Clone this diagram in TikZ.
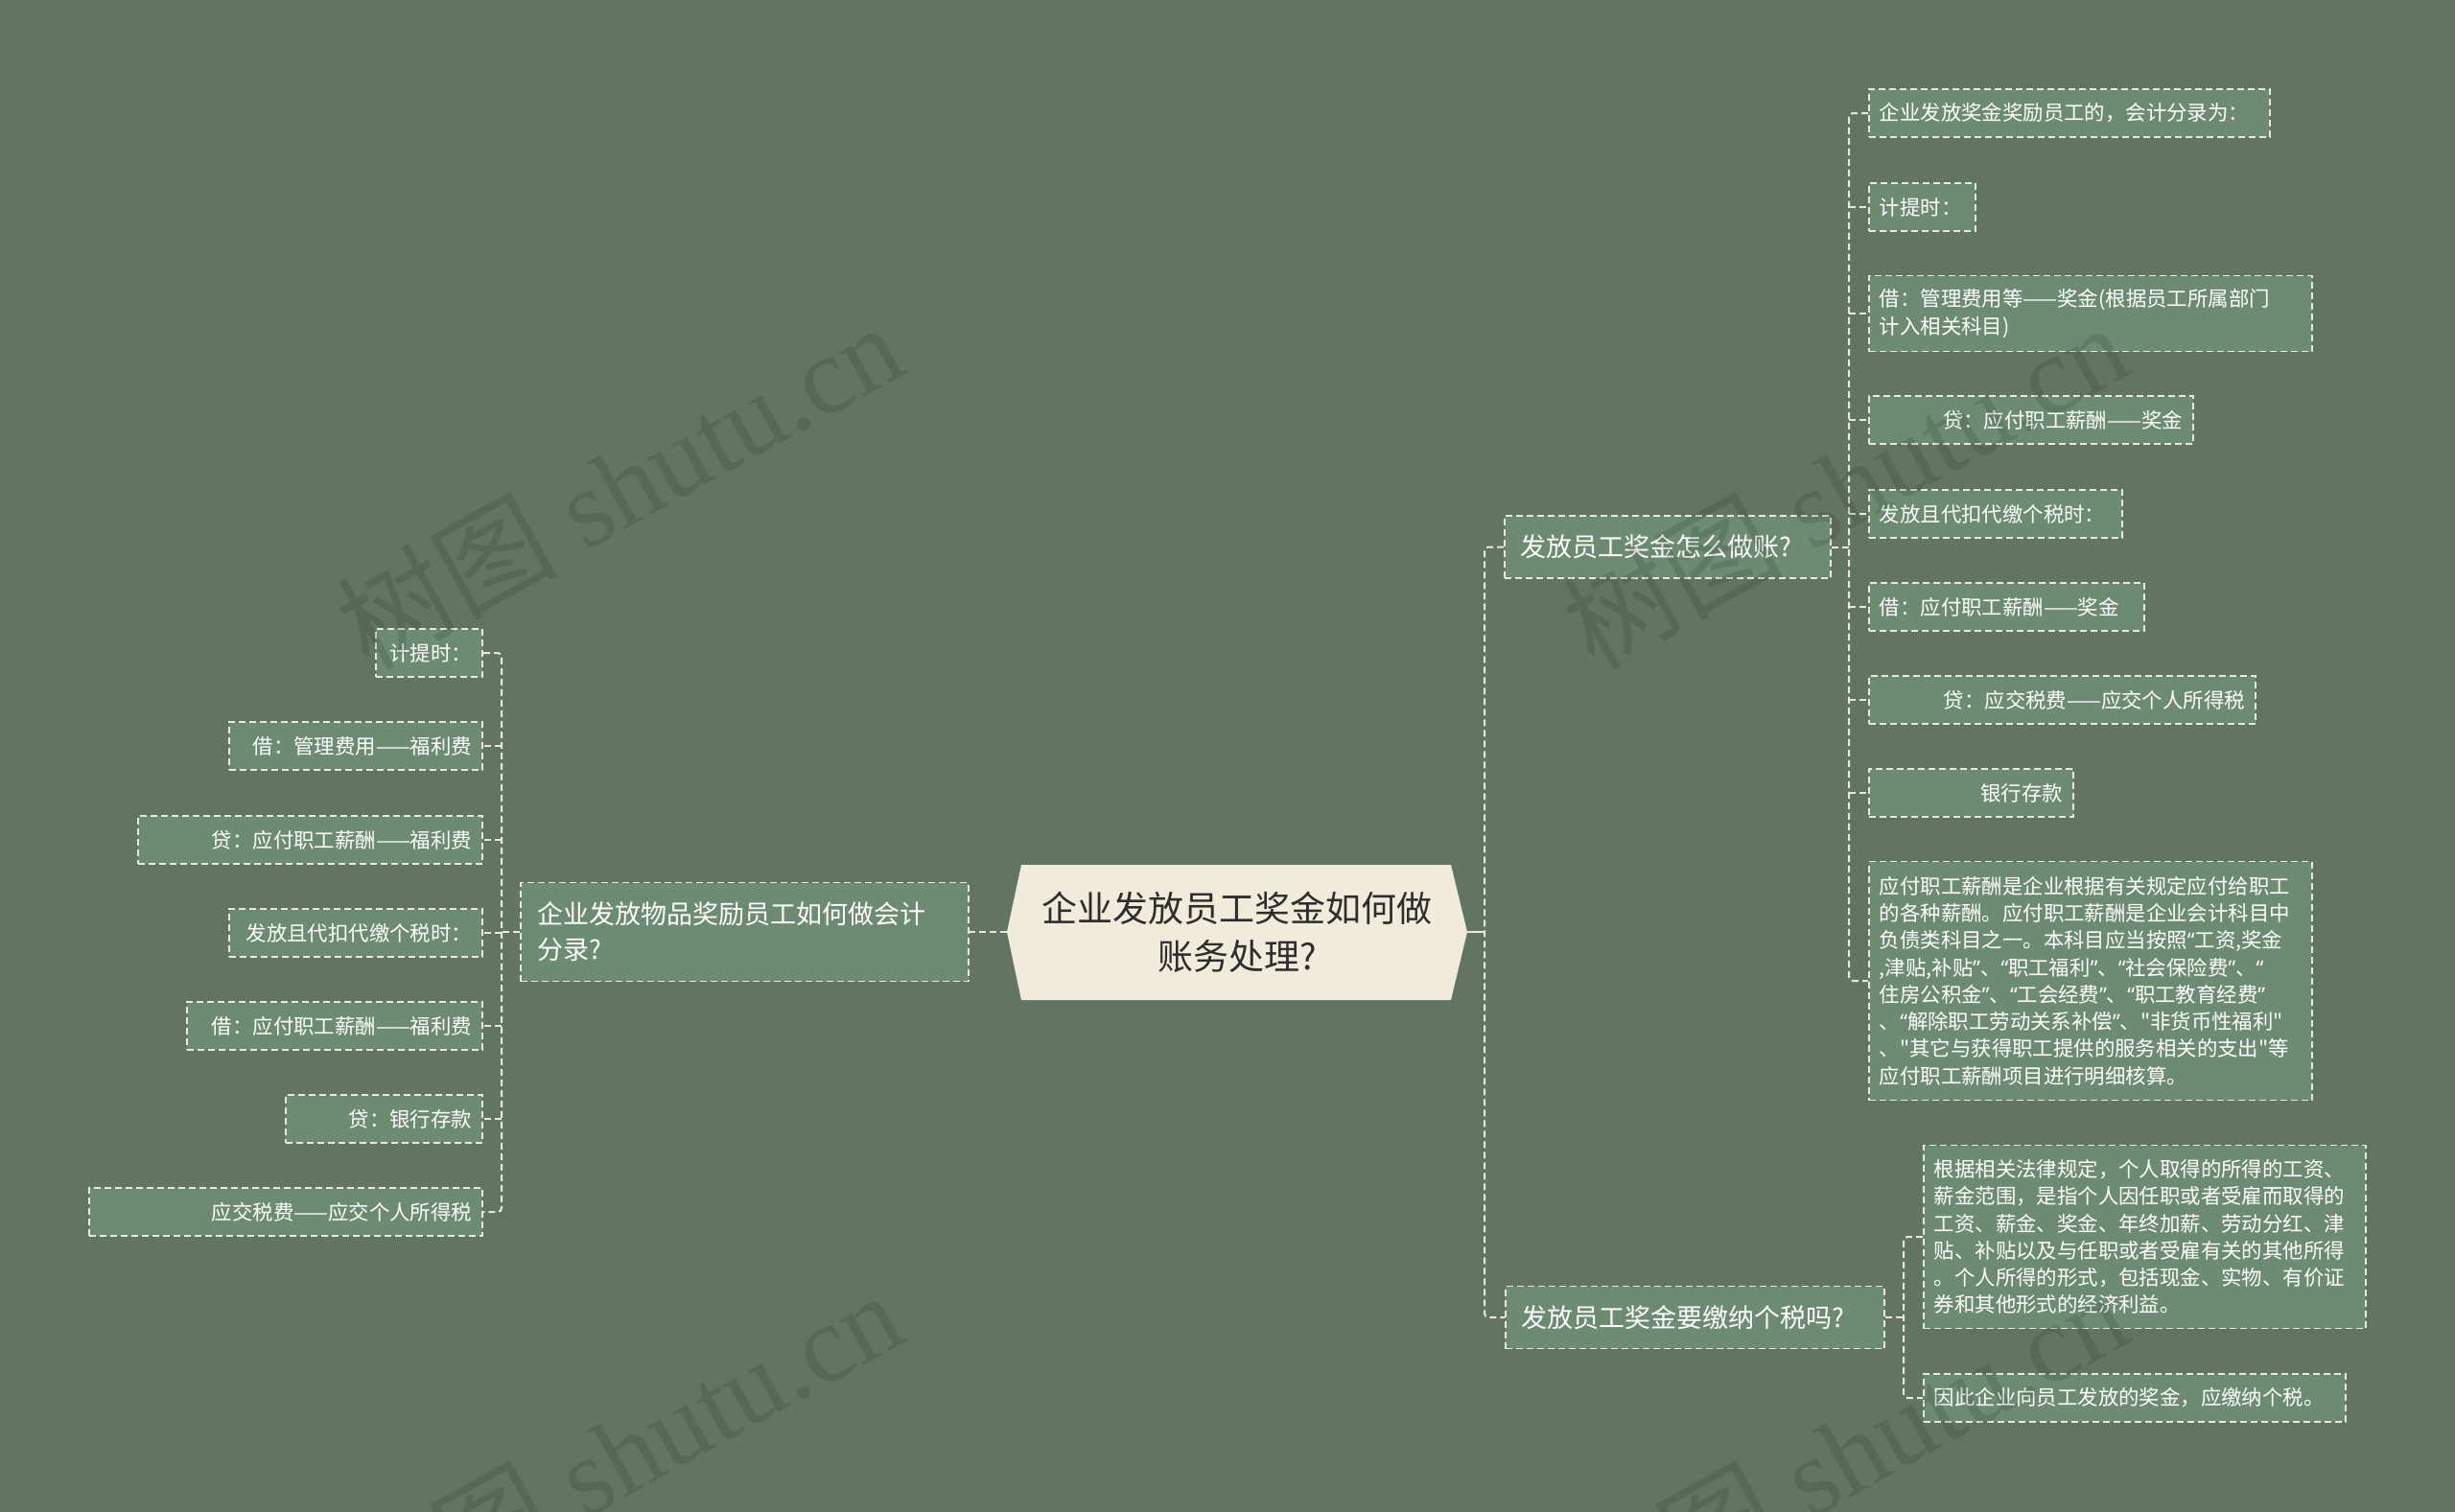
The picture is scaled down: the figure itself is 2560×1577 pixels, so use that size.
\documentclass[tikz,border=0pt]{standalone}
\usepackage{fontspec}
\newfontfamily\cjk{Noto Sans CJK SC}
\newfontfamily\latinq{Noto Sans}
\newfontfamily\wmserif{Liberation Serif}
\newcommand\oq{{\latinq “}}
\newcommand\cq{{\latinq ”}}
\definecolor{bgc}{HTML}{627463}
\definecolor{nodefill}{HTML}{6D8B73}
\definecolor{linec}{HTML}{E8E8DE}
\definecolor{rootfill}{HTML}{F0EBDB}
\definecolor{roottext}{HTML}{2E2E2E}
\definecolor{wmc}{HTML}{1F2A22}
\begin{document}
\begin{tikzpicture}[x=1pt,y=-1pt,
  conn/.style={draw=linec, line width=2pt, dash pattern=on 7pt off 4pt, rounded corners=4pt},
  solidc/.style={draw=linec, line width=2pt},
  leafbox/.style={draw=linec, line width=1.8pt, dash pattern=on 7pt off 4pt, fill=nodefill, text=white, inner xsep=11pt, inner ysep=0pt, minimum height=50pt, font=\cjk\fontsize{21.4}{28.3}\selectfont},
  rleaf/.style={leafbox, anchor=west, align=left},
  rleafr/.style={leafbox, anchor=west, align=right},
  lleaf/.style={leafbox, anchor=east, align=right},
  branchbox/.style={draw=linec, line width=1.8pt, dash pattern=on 7pt off 4pt, fill=nodefill, text=white, inner xsep=17pt, inner ysep=0pt, minimum height=65pt, font=\cjk\fontsize{27}{37}\selectfont, align=left},
  rootnode/.style={inner sep=0pt, minimum width=448pt, minimum height=141pt, text=roottext, font=\cjk\fontsize{37}{50}\selectfont, align=center},
  wm/.style={text=wmc, text opacity=0.16, font=\wmserif\fontsize{115}{115}\selectfont, rotate=29, inner sep=0pt}
]
\useasboundingbox (0,0) rectangle (2560,1577);
\fill[bgc] (0,0) rectangle (2560,1577);

% central topic
\fill[rootfill] (1065,902) -- (1513,902) -- (1530,972) -- (1513,1043) -- (1065,1043) -- (1050,972) -- cycle;
\node[rootnode] (root) at (1290,972) {企业发放员工奖金如何做\\账务处理?};
\coordinate (rootL) at (1050,972);
\coordinate (rootR) at (1530,972);

% spines
\coordinate (sR0) at (1548,0);
\coordinate (sR1) at (1928,0);
\coordinate (sR2) at (1985,0);
\coordinate (sL1) at (523,0);

% branches
\node[branchbox, anchor=west, text width=306pt] (b1) at (1568,570.5) {发放员工奖金怎么做账?};
\node[branchbox, anchor=west, text width=361pt] (b2) at (1569,1374) {发放员工奖金要缴纳个税吗?};
\node[branchbox, anchor=east, text width=433pt, minimum height=103pt] (lb) at (1011,972) {企业发放物品奖励员工如何做会计\\分录?};

% right branch 1 leaves
\node[rleaf, text width=396pt] (c1) at (1948,118) {企业发放奖金奖励员工的，会计分录为：};
\node[rleaf, text width=89pt] (c2) at (1948,216) {计提时：};
\node[rleaf, text width=440pt, minimum height=79pt] (c3) at (1948,327) {借：管理费用等——奖金(根据员工所属部门\\计入相关科目)};
\node[rleafr, text width=316pt] (c4) at (1948,438) {贷：应付职工薪酬——奖金};
\node[rleaf, text width=242pt] (c5) at (1948,536) {发放且代扣代缴个税时：};
\node[rleaf, text width=265pt] (c6) at (1948,633) {借：应付职工薪酬——奖金};
\node[rleafr, text width=381pt] (c7) at (1948,730) {贷：应交税费——应交个人所得税};
\node[rleafr, text width=191pt] (c8) at (1948,827) {银行存款};
\node[rleaf, text width=440pt, minimum height=249pt] (c9) at (1948,1023) {应付职工薪酬是企业根据有关规定应付给职工\\的各种薪酬。应付职工薪酬是企业会计科目中\\负债类科目之一。本科目应当按照\oq 工资,奖金\\,津贴,补贴\cq 、\oq 职工福利\cq 、\oq 社会保险费\cq 、\oq\\住房公积金\cq 、\oq 工会经费\cq 、\oq 职工教育经费\cq\\、\oq 解除职工劳动关系补偿\cq 、"非货币性福利"\\、"其它与获得职工提供的服务相关的支出"等\\应付职工薪酬项目进行明细核算。};

% right branch 2 leaves
\node[rleaf, text width=439pt, minimum height=191pt] (d1) at (2005,1290) {根据相关法律规定，个人取得的所得的工资、\\薪金范围，是指个人因任职或者受雇而取得的\\工资、薪金、奖金、年终加薪、劳动分红、津\\贴、补贴以及与任职或者受雇有关的其他所得\\。个人所得的形式，包括现金、实物、有价证\\券和其他形式的经济利益。};
\node[rleaf, text width=418pt] (d2) at (2005,1458) {因此企业向员工发放的奖金，应缴纳个税。};

% left branch leaves
\node[lleaf, text width=89pt] (e1) at (504,681) {计提时：};
\node[lleaf, text width=242pt] (e2) at (504,778) {借：管理费用——福利费};
\node[lleaf, text width=337pt] (e3) at (504,876) {贷：应付职工薪酬——福利费};
\node[lleaf, text width=242pt] (e4) at (504,973) {发放且代扣代缴个税时：};
\node[lleaf, text width=286pt] (e5) at (504,1070) {借：应付职工薪酬——福利费};
\node[lleaf, text width=183pt] (e6) at (504,1167) {贷：银行存款};
\node[lleaf, text width=388pt] (e7) at (504,1264) {应交税费——应交个人所得税};

% root connectors
\draw[solidc] (rootR) -- (rootR -| sR0);
\draw[conn] (b1.west) -- (b1.west -| sR0) -- (b2.west -| sR0) -- (b2.west);
\draw[conn] (rootL) -- (lb.east);

% branch 1 connectors
\draw[conn] (b1.east) -- (b1.east -| sR1);
\draw[conn] (c1.west) -- (c1.west -| sR1) -- (c9.west -| sR1) -- (c9.west);
\foreach \n in {c2,c3,c4,c5,c6,c7,c8}{
  \draw[conn] (\n.west -| sR1) -- (\n.west);
}

% branch 2 connectors
\draw[conn] (b2.east) -- (b2.east -| sR2);
\draw[conn] (d1.west) -- (d1.west -| sR2) -- (d2.west -| sR2) -- (d2.west);

% left branch connectors
\draw[conn] (lb.west) -- (lb.west -| sL1);
\draw[conn] (e1.east) -- (e1.east -| sL1) -- (e7.east -| sL1) -- (e7.east);
\foreach \n in {e2,e3,e4,e5,e6}{
  \draw[conn] (\n.east -| sL1) -- (\n.east);
}

% watermarks
\node[wm] (wm1) at (645,506) {{\cjk 树图} shutu.cn};
\node[wm] (wm2) at (1923,506) {{\cjk 树图} shutu.cn};
\node[wm] (wm3) at (645,1516) {{\cjk 树图} shutu.cn};
\node[wm] (wm4) at (1923,1516) {{\cjk 树图} shutu.cn};
\end{tikzpicture}
\end{document}
